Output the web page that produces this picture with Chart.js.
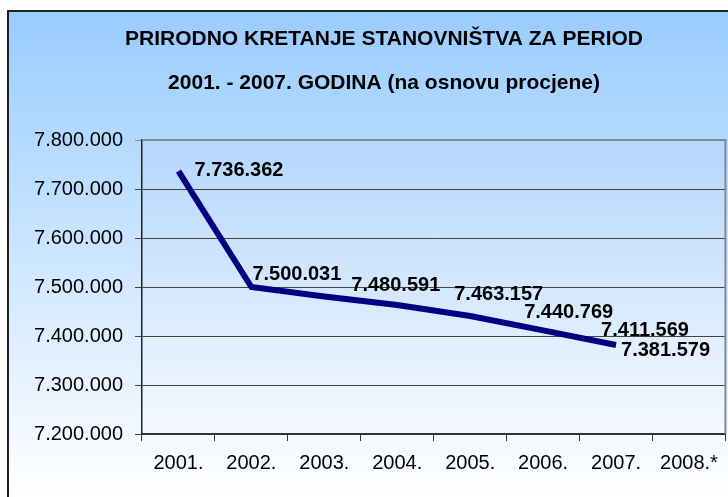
<!DOCTYPE html>
<html>
<head>
<meta charset="utf-8">
<script src="https://cdn.jsdelivr.net/npm/chart.js@4/dist/chart.umd.min.js"></script>
<style>
  html, body { margin: 0; padding: 0; background: #fff; overflow: hidden; }
  canvas { display: block; }
</style>
</head>
<body>
<canvas id="popChart" width="728" height="497"></canvas>
<script>
const titleLines = ['PRIRODNO KRETANJE STANOVNIŠTVA ZA PERIOD', '2001. - 2007. GODINA (na osnovu procjene)'];
const years = ['2001.', '2002.', '2003.', '2004.', '2005.', '2006.', '2007.', '2008.*'];
const population = [7736362, 7500031, 7480591, 7463157, 7440769, 7411569, 7381579, null];
const yMin = 7200000;
const yMax = 7800000;
const yStep = 100000;

// label placement relative to its point (hand-moved in the original)
const labelOffsets = [[16, -1], [1, -13], [27, -11], [57, -11], [54, -4], [58, 0], [5, 5]];

function dots(v) {
  return String(Math.round(v)).replace(/\B(?=(\d{3})+(?!\d))/g, '.');
}

const background = {
  id: 'background',
  beforeDraw(chart) {
    const { ctx, width, height, chartArea: a } = chart;
    ctx.save();
    let g = ctx.createLinearGradient(0, 11, 0, height);
    g.addColorStop(0, '#99ccff');
    g.addColorStop(1, '#ffffff');
    ctx.fillStyle = g;
    ctx.fillRect(8, 11, width - 8, height - 11);
    g = ctx.createLinearGradient(0, a.top, 0, a.bottom);
    g.addColorStop(0, '#b4d7fc');
    g.addColorStop(1, '#f5f9ff');
    ctx.fillStyle = g;
    ctx.fillRect(a.left, a.top, a.right - a.left, a.bottom - a.top);
    ctx.strokeStyle = '#222';
    ctx.lineWidth = 2;
    ctx.beginPath();
    ctx.moveTo(8, height);
    ctx.lineTo(8, 11);
    ctx.lineTo(width, 11);
    ctx.stroke();
    ctx.fillStyle = '#000';
    ctx.font = 'bold 21px "Liberation Sans", Arial, sans-serif';
    ctx.textAlign = 'center';
    ctx.textBaseline = 'middle';
    ctx.fillText(titleLines[0], 384, 39);
    ctx.fillText(titleLines[1], 384, 83);
    ctx.restore();
  },
  afterDatasetsDraw(chart) {
    const { ctx, chartArea: a } = chart;
    ctx.save();
    ctx.strokeStyle = '#888';
    ctx.lineWidth = 2;
    ctx.beginPath();
    ctx.moveTo(a.left, a.top);
    ctx.lineTo(a.right, a.top);
    ctx.lineTo(a.right, a.bottom);
    ctx.stroke();
    ctx.restore();
  }
};

const valueLabels = {
  id: 'valueLabels',
  afterDatasetsDraw(chart) {
    const { ctx } = chart;
    const meta = chart.getDatasetMeta(0);
    ctx.save();
    ctx.fillStyle = '#000';
    ctx.font = 'bold 20px "Liberation Sans", Arial, sans-serif';
    ctx.textAlign = 'left';
    ctx.textBaseline = 'middle';
    population.forEach((v, i) => {
      if (v == null) return;
      const p = meta.data[i];
      const off = labelOffsets[i] || [0, 0];
      ctx.fillText(dots(v), p.x + off[0], p.y + off[1]);
    });
    ctx.restore();
  }
};

new Chart(document.getElementById('popChart'), {
  type: 'line',
  data: {
    labels: years,
    datasets: [{
      data: population,
      borderColor: '#000080',
      borderWidth: 6,
      pointRadius: 0,
      tension: 0,
      spanGaps: false
    }]
  },
  options: {
    responsive: false,
    animation: false,
    devicePixelRatio: 1,
    layout: { padding: { top: 140, right: 2, bottom: 0, left: 0 } },
    plugins: { legend: { display: false }, title: { display: false }, tooltip: { enabled: false } },
    scales: {
      x: {
        offset: true,
        afterFit(scale) { scale.height = 63; },
        grid: { offset: true, drawOnChartArea: false, drawTicks: true, tickLength: 7, color: '#333', lineWidth: 1 },
        border: { color: '#333', width: 2 },
        ticks: { color: '#000', padding: 10, font: { family: '"Liberation Sans", Arial, sans-serif', size: 20 } }
      },
      y: {
        min: yMin,
        max: yMax,
        afterFit(scale) { scale.width = 142; },
        grid: {
          tickLength: 7,
          color: (c) => (c.tick && c.tick.value === yMax ? '#888' : '#444'),
          lineWidth: 1
        },
        border: { color: '#222', width: 1.5 },
        ticks: {
          stepSize: yStep,
          color: '#000',
          padding: 12,
          font: { family: '"Liberation Sans", Arial, sans-serif', size: 20 },
          callback: (v) => dots(v)
        }
      }
    }
  },
  plugins: [background, valueLabels]
});
</script>
</body>
</html>
